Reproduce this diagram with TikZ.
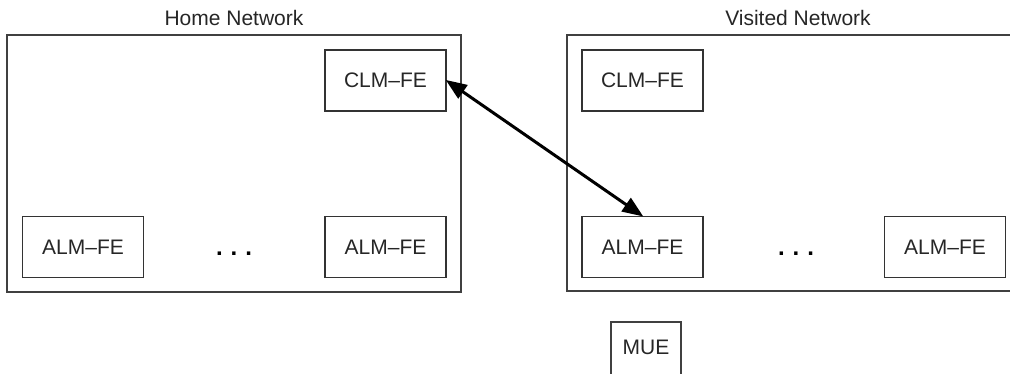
\documentclass[tikz,border=0pt]{standalone}
\usepackage{fontspec}
\setmainfont{Liberation Sans}
\usetikzlibrary{arrows.meta}
\begin{document}
\begin{tikzpicture}[x=1pt,y=1pt,
  fe/.style={draw=black!80, line width=1.1pt, minimum width=121pt, minimum height=61pt, inner sep=0pt, font=\fontsize{21}{24}\selectfont, text=black!85},
  net/.style={draw=black!75, line width=1.1pt},
  lbl/.style={font=\fontsize{21}{24}\selectfont, text=black!85, inner sep=0pt},
  dotsty/.style={font=\fontsize{24}{26}\selectfont\bfseries, text=black, inner sep=0pt},
  link/.style={line width=3pt, {Triangle[length=21pt,width=16pt]}-{Triangle[length=21pt,width=16pt]}, shorten <=-1pt, shorten >=-1pt}]
\useasboundingbox (0,0) rectangle (1010,-374);
% home network
\node[net, minimum width=454pt, minimum height=257pt, inner sep=0pt] (home) at (234,-163.5) {};
\node[lbl] (homet) at (234,-18) {Home Network};
\node[fe] (clm1) at (385.5,-80.5) {CLM–FE};
\node[fe] (alm1) at (83,-247) {ALM–FE};
\node[fe] (alm1b) at (385.5,-247) {ALM–FE};
\node[dotsty, anchor=base] (dots1) at (234,-256) {.\,\,.\,\,.};
% visited network
\coordinate (vtr) at (1010,-35);
\coordinate (vtl) at (567,-35);
\coordinate (vbl) at (567,-291);
\coordinate (vbr) at (1010,-291);
\draw[net] (vtr) -- (vtl) -- (vbl) -- (vbr);
\node[lbl] (vist) at (798,-18) {Visited Network};
\node[fe] (clm2) at (642.5,-80.5) {CLM–FE};
\node[fe] (alm2) at (642.5,-247) {ALM–FE};
\node[fe] (alm2b) at (945,-247) {ALM–FE};
\node[dotsty, anchor=base] (dots2) at (796,-256) {.\,\,.\,\,.};
% MUE
\node[lbl] (mue) at (646,-347) {MUE};
\coordinate (mbl) at (611,-374);
\coordinate (mtl) at (611,-322);
\coordinate (mtr) at (681,-322);
\coordinate (mbr) at (681,-374);
\draw[net] (mbl) -- (mtl) -- (mtr) -- (mbr);
% link
\draw[link] (clm1.east) -- (alm2.north);
\end{tikzpicture}
\end{document}
